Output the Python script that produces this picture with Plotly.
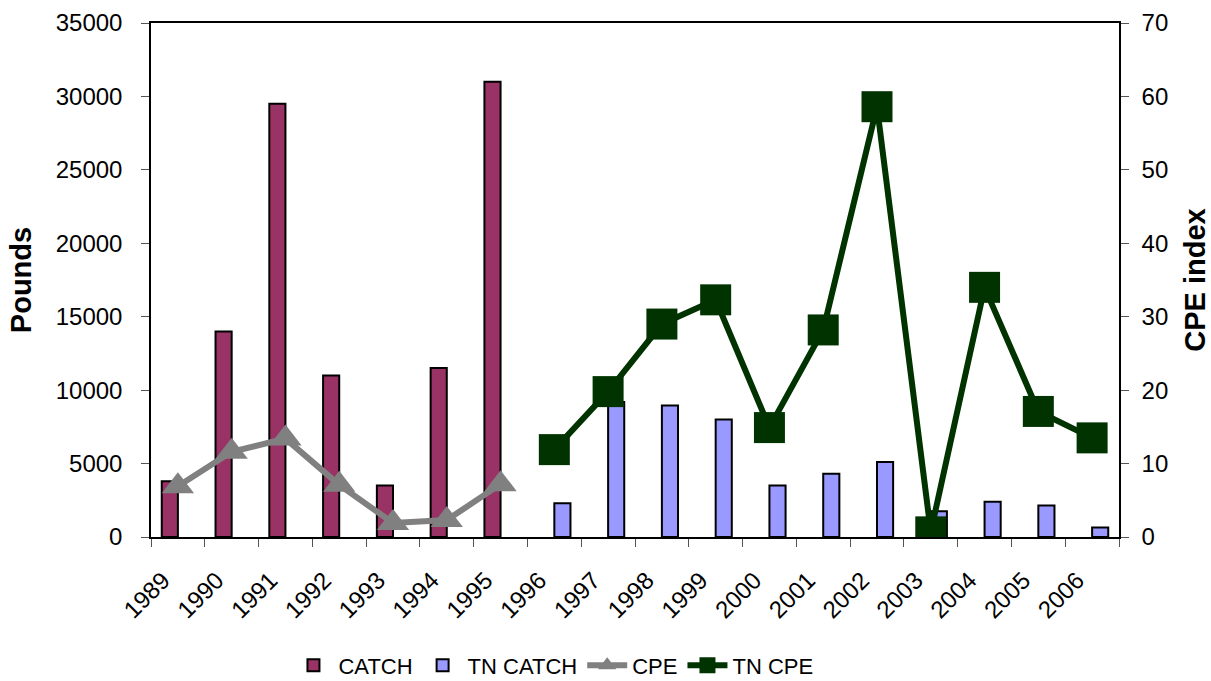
import plotly.graph_objects as go

# Annual catch (pounds) and catch-per-effort index
years = ["1989", "1990", "1991", "1992", "1993", "1994", "1995", "1996", "1997",
         "1998", "1999", "2000", "2001", "2002", "2003", "2004", "2005", "2006"]
catch = [3800, 14000, 29500, 11000, 3500, 11500, 31000,
         None, None, None, None, None, None, None, None, None, None, None]
tn_catch = [None, None, None, None, None, None, None,
            2300, 9200, 8950, 8000, 3500, 4300, 5100, 1750, 2400, 2150, 650]
cpe = [6.9, 11.6, 13.4, 7.1, 1.9, 2.3, 7.2,
       None, None, None, None, None, None, None, None, None, None, None]
tn_cpe = [None, None, None, None, None, None, None,
          11.9, 19.8, 29.0, 32.3, 14.9, 28.2, 58.6, 0.7, 34.0, 17.1, 13.5]

pos = list(range(len(years)))
bounds = [i - 0.5 for i in range(len(years) + 1)]

FONT = "Liberation Sans, Arial, sans-serif"
AXIS_COLOR = "black"
TICK_COLOR = "#555555"

fig = go.Figure()
fig.add_trace(go.Bar(x=pos, y=catch, name="CATCH",
                     marker=dict(color="#993366", line=dict(color="black", width=2))))
fig.add_trace(go.Bar(x=pos, y=tn_catch, name="TN CATCH",
                     marker=dict(color="#9999FF", line=dict(color="black", width=2))))
fig.add_trace(go.Scatter(x=pos, y=cpe, name="CPE", yaxis="y2", mode="lines+markers",
                         line=dict(color="#808080", width=6),
                         marker=dict(symbol="triangle-up", size=28, color="#808080")))
fig.add_trace(go.Scatter(x=pos, y=tn_cpe, name="TN CPE", yaxis="y2", mode="lines+markers",
                         line=dict(color="#003300", width=6),
                         marker=dict(symbol="square", size=31, color="#003300")))

fig.update_layout(
    width=1211, height=681,
    margin=dict(l=151, r=92, t=23, b=144, autoexpand=False),
    paper_bgcolor="white", plot_bgcolor="white",
    font=dict(family=FONT, size=24, color="black"),
    barmode="group", bargap=0.4, bargroupgap=0,
    showlegend=True,
    legend=dict(orientation="h", x=0.142, xanchor="left", y=-0.25, yanchor="middle",
                font=dict(family=FONT, size=22),
                itemwidth=40, tracegroupgap=0),
    xaxis=dict(
        range=[-0.5, 17.5], tickmode="array", tickvals=bounds,
        ticktext=years + [""], tickangle=-45, ticklabelshift=12,
        ticklabelstandoff=10, automargin=False,
        ticks="outside", ticklen=8, tickcolor=TICK_COLOR, tickwidth=1,
        showline=True, linecolor=AXIS_COLOR, linewidth=1.5, mirror=True,
        showgrid=False, zeroline=False,
    ),
    xaxis2=dict(
        overlaying="x", anchor="y", side="bottom", range=[-0.5, 17.5],
        tickmode="array", tickvals=bounds, showticklabels=False,
        ticks="inside", ticklen=8, tickcolor=TICK_COLOR, tickwidth=1,
        showline=False, showgrid=False, zeroline=False,
    ),
    yaxis=dict(
        range=[0, 35000], dtick=5000, tickformat="d", automargin=False,
        ticks="outside", ticklen=8, tickcolor=TICK_COLOR, tickwidth=1,
        ticklabelstandoff=14,
        showline=True, linecolor=AXIS_COLOR, linewidth=1.5,
        showgrid=False, zeroline=False,
        title=dict(text="<b>Pounds</b>", standoff=16),
    ),
    yaxis3=dict(
        overlaying="y", anchor="x", side="left", range=[0, 35000], dtick=5000,
        showticklabels=False, ticks="inside", ticklen=8, tickcolor=TICK_COLOR,
        tickwidth=1, showline=False, showgrid=False, zeroline=False,
    ),
    yaxis2=dict(
        overlaying="y", side="right", anchor="x", range=[0, 70], dtick=10,
        automargin=False,
        ticks="outside", ticklen=8, tickcolor=TICK_COLOR, tickwidth=1,
        ticklabelstandoff=8,
        showline=True, linecolor=AXIS_COLOR, linewidth=1.5,
        showgrid=False, zeroline=False,
        title=dict(text="<b>CPE index</b>", standoff=26),
    ),
    yaxis4=dict(
        overlaying="y", anchor="x", side="right", range=[0, 70], dtick=10,
        showticklabels=False, ticks="inside", ticklen=8, tickcolor=TICK_COLOR,
        tickwidth=1, showline=False, showgrid=False, zeroline=False,
    ),
)

fig.write_html("out.html")
